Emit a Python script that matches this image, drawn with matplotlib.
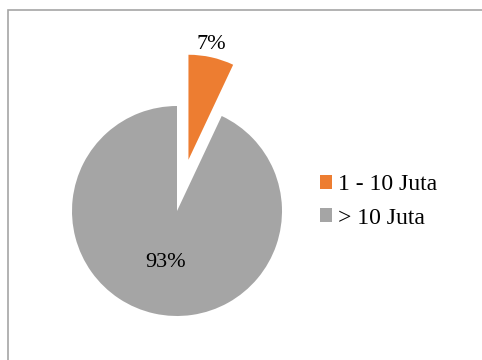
import matplotlib
matplotlib.use("Agg")
import matplotlib.pyplot as plt
from matplotlib.patches import Rectangle
import numpy as np

plt.rcParams['font.family'] = ['Liberation Serif', 'DejaVu Serif']

labels = ['1 - 10 Juta', '> 10 Juta']
values = [7, 93]
colors = ['#ED7D31', '#A5A5A5']
explode = [0.5, 0.0]

fig = plt.figure(figsize=(4.82, 3.6), dpi=100)

# chart area border (runs off the right and bottom edges)
fig.patches.append(Rectangle((8 / 482, -0.1), 1.2, 1.1 - 10.5 / 360,
                             transform=fig.transFigure, fill=False,
                             edgecolor='#A6A6A6', linewidth=1.2))

# pie axes: centre at pixel (177, 211), radius 105 px
ax = fig.add_axes([(177 - 168) / 482, (149 - 168) / 360, 336 / 482, 336 / 360])

wedges, _ = ax.pie(values, colors=colors, explode=explode, startangle=90,
                   counterclock=False, radius=1.0)
# pie() resets the limits, so fix them afterwards
ax.set_xlim(-1.6, 1.6)
ax.set_ylim(-1.6, 1.6)
ax.set_aspect('equal')
ax.axis('off')

# percentage labels, distance measured from each wedge's own centre
total = sum(values)
start = 90.0
label_dist = [1.12, 0.5]
label_dx = [-0.03, 0.0]
for v, ex, d, dx in zip(values, explode, label_dist, label_dx):
    span = 360.0 * v / total
    mid = np.deg2rad(start - span / 2)
    r = ex + d
    ax.text(r * np.cos(mid) + dx, r * np.sin(mid), f"{round(100 * v / total)}%",
            ha='center', va='center', fontsize=16, clip_on=False)
    start -= span

fig.legend(wedges, labels, loc='center left',
           bbox_to_anchor=(320 / 482, 1 - 201.5 / 360),
           frameon=False, fontsize=17, borderpad=0, borderaxespad=0,
           handlelength=0.51, handleheight=0.51, handletextpad=0.25,
           labelspacing=0.52)

fig.savefig('out.png', dpi=100)
